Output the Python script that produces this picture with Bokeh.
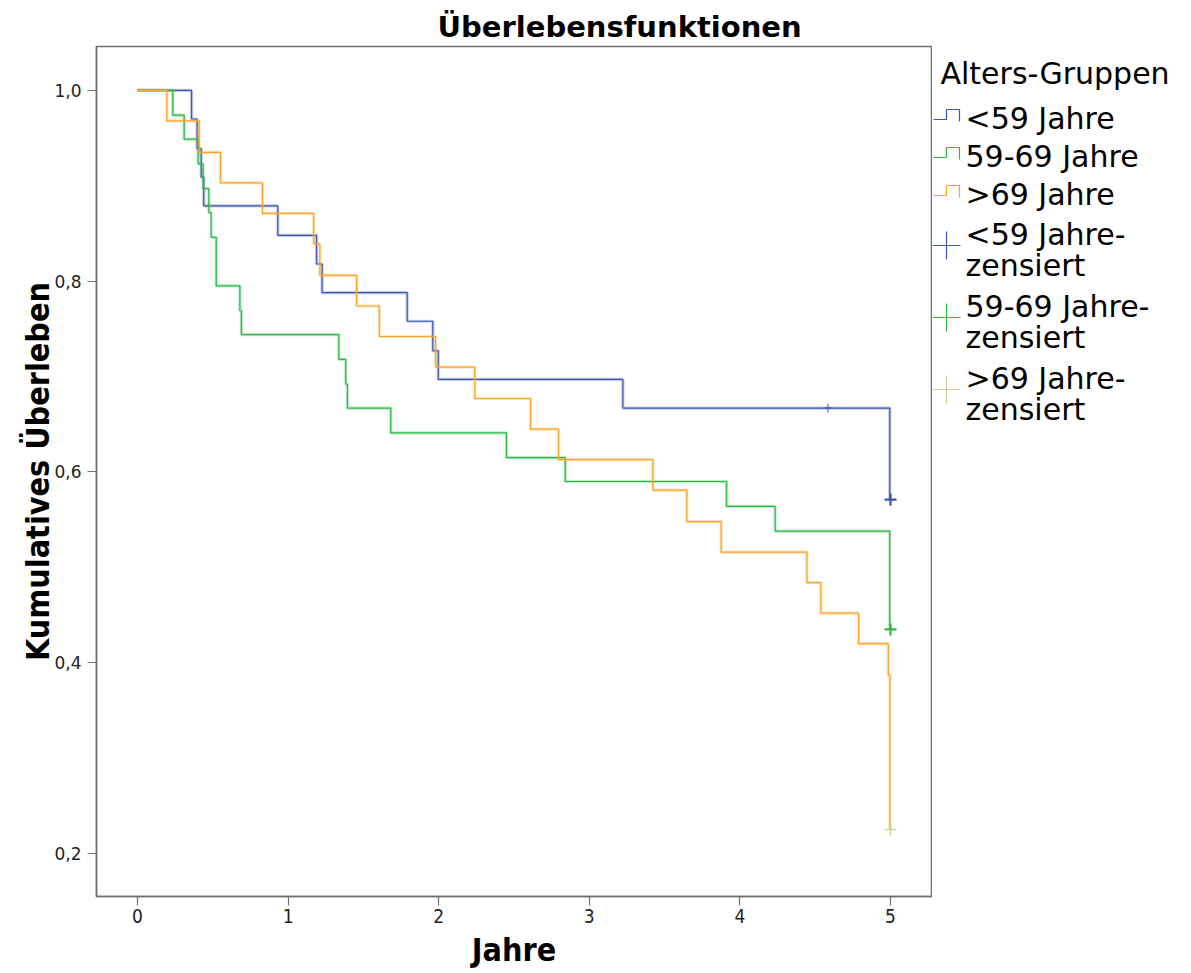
from bokeh.plotting import figure
from bokeh.models import Range1d, FixedTicker, Title
from bokeh.layouts import row
from bokeh.embed import file_html
from bokeh.resources import INLINE
from bokeh.core.properties import value

# ---------------- data ----------------
title_text = "Überlebensfunktionen"
x_title = "Jahre"
y_title = "Kumulatives Überleben"
legend_title = "Alters-Gruppen"
groups = ["<59 Jahre", "59-69 Jahre", ">69 Jahre"]
censor_labels = [["<59 Jahre-", "zensiert"], ["59-69 Jahre-", "zensiert"], [">69 Jahre-", "zensiert"]]

x_ticks = [0, 1, 2, 3, 4, 5]
y_ticks = [0.2, 0.4, 0.6, 0.8, 1.0]
y_tick_labels = ["0,2", "0,4", "0,6", "0,8", "1,0"]

# <59 Jahre
t_lt59 = [0.0, 0.359, 0.396, 0.423, 0.440, 0.932, 1.189, 1.226, 1.791, 1.961, 1.997, 3.223, 4.995]
s_lt59 = [1.0, 0.970, 0.939, 0.909, 0.879, 0.848, 0.818, 0.788, 0.758, 0.727, 0.697, 0.667, 0.571]
ct_lt59 = [4.584, 5.0]
cs_lt59 = [0.667, 0.571]

# 59-69 Jahre
t_59_69 = [0.0, 0.235, 0.310, 0.403, 0.436, 0.474, 0.489, 0.523, 0.680, 0.690, 1.337, 1.383, 1.394,
           1.682, 2.450, 2.840, 3.911, 4.234, 4.995]
s_59_69 = [1.0, 0.974, 0.949, 0.923, 0.897, 0.872, 0.846, 0.795, 0.769, 0.744, 0.718, 0.692, 0.667,
           0.641, 0.615, 0.590, 0.564, 0.538, 0.435]
ct_59_69 = [5.0]
cs_59_69 = [0.435]

# >69 Jahre
t_gt69 = [0.0, 0.195, 0.410, 0.551, 0.830, 1.170, 1.211, 1.455, 1.606, 1.980, 2.240, 2.610, 2.796,
          3.422, 3.648, 3.875, 4.445, 4.537, 4.788, 4.985, 4.996]
s_gt69 = [1.0, 0.968, 0.935, 0.903, 0.871, 0.839, 0.806, 0.774, 0.742, 0.710, 0.677, 0.645, 0.613,
          0.581, 0.548, 0.516, 0.484, 0.452, 0.420, 0.387, 0.225]
ct_gt69 = [5.0]
cs_gt69 = [0.225]

# ---------------- styles ----------------
line_colors = ["#3E58AC", "#2EB848", "#F9A42B"]
censor_colors = ["#3E58AC", "#2EB848", "#D3CE97"]
frame_color = "#707070"
COND = "DejaVu Sans Condensed"

H = 973
p = figure(width=932, height=H, x_range=Range1d(-0.272, 5.272), y_range=Range1d(0.155, 1.046),
           toolbar_location=None, output_backend="svg",
           min_border_left=96, min_border_right=1, min_border_top=46, min_border_bottom=77)
p.title = Title(text=title_text, align="left", offset=341, standoff=6, vertical_align="bottom",
                text_font="DejaVu Sans", text_font_style="bold", text_font_size="29px", text_color="black")
p.grid.visible = False
p.outline_line_color = frame_color
p.outline_line_width = 1.5
p.background_fill_color = "white"
p.border_fill_color = "white"

for ax in (p.xaxis[0], p.yaxis[0]):
    ax.axis_line_color = frame_color
    ax.axis_line_width = 1.5
    ax.major_tick_line_color = frame_color
    ax.major_tick_line_width = 1.2
    ax.major_tick_out = 9
    ax.major_tick_in = 0
    ax.minor_tick_line_color = None
    ax.major_label_text_color = "#222222"
    ax.axis_label_text_font = COND
    ax.axis_label_text_font_style = "bold"
    ax.axis_label_text_font_size = "32px"
    ax.axis_label_text_color = "black"

p.xaxis.ticker = FixedTicker(ticks=x_ticks)
p.xaxis.major_label_text_font = COND
p.xaxis.major_label_text_font_size = "19px"
p.xaxis.major_label_standoff = 3
p.xaxis.axis_label = x_title
p.xaxis.axis_label_standoff = 5

p.yaxis.ticker = FixedTicker(ticks=y_ticks)
p.yaxis.major_label_overrides = {t: l for t, l in zip(y_ticks, y_tick_labels)}
p.yaxis.major_label_text_font = "DejaVu Sans"
p.yaxis.major_label_text_font_size = "17px"
p.yaxis.major_label_standoff = 6
p.yaxis.axis_label = y_title
p.yaxis.axis_label_standoff = -6

curves = [(t_lt59, s_lt59), (t_59_69, s_59_69), (t_gt69, s_gt69)]
for (t, s), c in zip(curves, line_colors):
    p.step(t, s, mode="after", line_color=c, line_width=3.2, line_alpha=0.3)
    p.step(t, s, mode="after", line_color=c, line_width=1.2)

censors = [(ct_lt59, cs_lt59, [9, 12], [1.0, 2.2]), (ct_59_69, cs_59_69, [12], [2.2]), (ct_gt69, cs_gt69, [12], [1.2])]
for (ct, cs, sz, lw), c in zip(censors, censor_colors):
    p.scatter(ct, cs, marker="cross", size=sz, line_color=c, line_width=lw)

# ---------------- legend panel (pixel coordinates, frame aligned with main frame) ----------------
lg = figure(width=259, height=H, x_range=Range1d(932, 1191), y_range=Range1d(896, 46),
            toolbar_location=None, output_backend="svg", x_axis_type=None, y_axis_type=None,
            min_border=0)
lg.grid.visible = False
lg.outline_line_color = None

fnt = value("DejaVu Sans")
lg.text(x=[940], y=[73], text=[legend_title], text_font=fnt, text_font_size="30px",
        text_baseline="middle", text_color="black")

mid = [118, 156, 194]
for m, lab, c in zip(mid, groups, line_colors):
    lg.text(x=[965], y=[m], text=[lab], text_font=fnt, text_font_size="30px",
            text_baseline="middle", text_color="black")
    lg.line([933, 946, 946, 959, 959], [m + 1, m + 1, m - 9, m - 9, m + 3], line_color=c, line_width=1.2)

cm = [234, 306, 378]
for m, labs, c in zip(cm, censor_labels, censor_colors):
    lg.text(x=[965, 965], y=[m, m + 31], text=labs, text_font=fnt, text_font_size="30px",
            text_baseline="middle", text_color="black")
    lg.scatter([946], [m + 11], marker="cross", size=28, line_color=c, line_width=1.2)

layout = row(p, lg)
open("out.html", "w").write(file_html(layout, INLINE))
